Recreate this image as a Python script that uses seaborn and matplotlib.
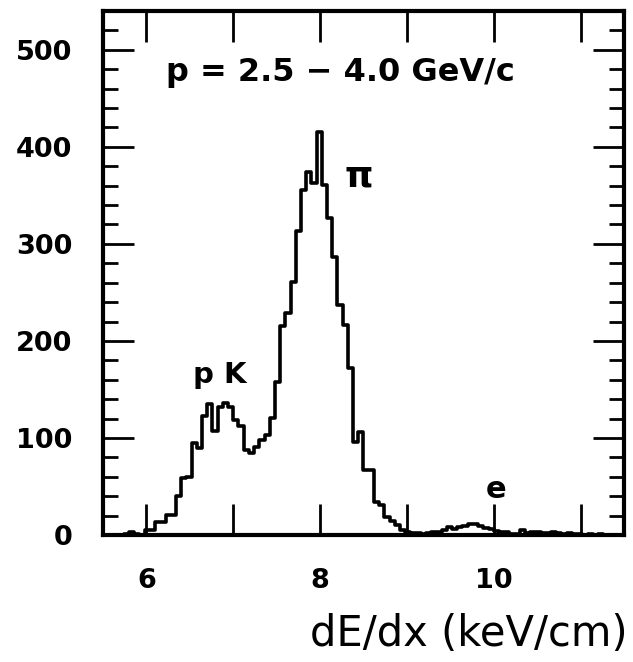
import numpy as np
import pandas as pd
import matplotlib
matplotlib.use("Agg")
import matplotlib.pyplot as plt
import seaborn as sns
from matplotlib.ticker import MultipleLocator

# ---- data ----
bin_start = 5.5
bin_width = 0.06
counts = [
    0, 0, 0, 0,
    1, 3, 1, 0,
    5, 5, 13, 13, 21, 21,
    40, 59, 60, 95, 90, 123,
    135, 107, 132, 136, 132, 119, 112, 88,
    85, 91, 98, 103, 121, 158,
    215, 229, 261, 313, 356, 374, 363, 415,
    361, 327, 287, 237, 216, 172, 96, 106,
    67, 67, 34, 31, 19, 14, 10, 5, 3, 2,
    2, 1, 2, 3, 3, 5, 8, 6, 8, 9,
    11, 11, 9, 7, 6, 4, 3, 3, 1, 1,
    5, 2, 3, 3, 2, 2, 3, 2, 1, 2,
    1, 1, 0, 1, 0, 1, 0, 0, 0, 0,
]
x_ticks = [6, 7, 8, 9, 10, 11]
x_tick_labels = ["6", "", "8", "", "10", ""]
y_ticks = [0, 100, 200, 300, 400, 500]
y_tick_labels = ["0", "100", "200", "300", "400", "500"]
x_label = "dE/dx (keV/cm)"
title_text = "p = 2.5 \u2212 4.0 GeV/c"
peak_labels = ["p K", "\u03c0", "e"]
peak_label_x = [6.84, 8.44, 10.03]
peak_label_y = [165, 369, 47]

# ---- build table ----
n = len(counts)
bin_end = bin_start + bin_width * n
centers = bin_start + bin_width * (np.arange(n) + 0.5)
df = pd.DataFrame({"dedx": centers, "count": np.asarray(counts, dtype=float)})

sns.set_style("ticks")
plt.rcParams["font.family"] = ["DejaVu Sans"]
plt.rcParams["text.color"] = "black"
plt.rcParams["axes.labelcolor"] = "black"
plt.rcParams["xtick.color"] = "black"
plt.rcParams["ytick.color"] = "black"

fig = plt.figure(figsize=(6.33, 6.62), dpi=100)
ax = fig.add_axes([103 / 633, 1 - 535 / 662, (624 - 103) / 633, (535 - 11) / 662])

sns.histplot(data=df, x="dedx", weights="count", binwidth=bin_width,
             binrange=(bin_start, bin_end), element="step",
             fill=False, color="black", linewidth=2.6, ax=ax)

ax.set_xlim(5.5, 11.5)
ax.set_ylim(0, 540)

ax.set_xticks(x_ticks)
ax.set_xticklabels(x_tick_labels)
ax.set_yticks(y_ticks)
ax.set_yticklabels(y_tick_labels)
ax.yaxis.set_minor_locator(MultipleLocator(20))

for sp in ax.spines.values():
    sp.set_visible(True)
    sp.set_linewidth(3)
    sp.set_color("black")

ax.tick_params(axis="both", which="major", direction="in", length=22, width=2,
               top=True, right=True, colors="black")
ax.tick_params(axis="y", which="minor", direction="in", length=11, width=2,
               left=True, right=True, colors="black")
ax.tick_params(axis="x", which="major", pad=24)
ax.tick_params(axis="y", which="major", pad=22)
for lab in ax.get_xticklabels() + ax.get_yticklabels():
    lab.set_fontsize(19.5)
    lab.set_fontweight("bold")
    lab.set_color("black")

ax.set_ylabel("")
ax.set_xlabel(x_label, fontsize=30, color="black")
ax.xaxis.set_label_coords(1.007, -0.148)
ax.xaxis.label.set_horizontalalignment("right")

ax.text(8.24, 477, title_text, fontsize=23, ha="center", va="center",
        fontweight="semibold", color="black")
for t, xx, yy, fs in zip(peak_labels, peak_label_x, peak_label_y, [21, 26, 22]):
    ax.text(xx, yy, t, fontsize=fs, ha="center", va="center", fontweight="bold",
            color="black")

fig.savefig("out.png", dpi=100)
